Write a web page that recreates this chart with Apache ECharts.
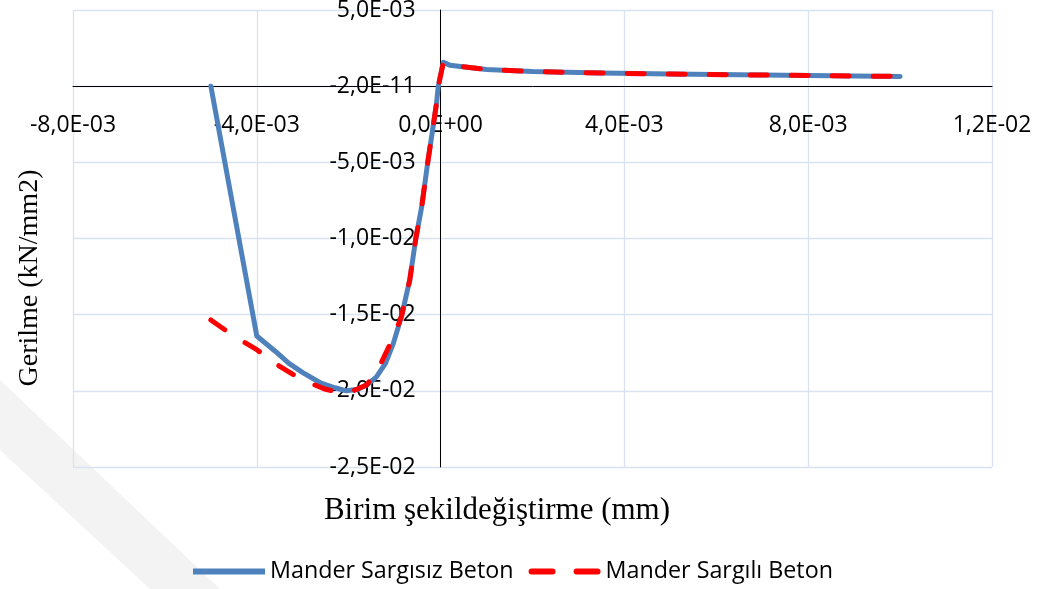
<!DOCTYPE html>
<html>
<head>
<meta charset="utf-8">
<script src="https://cdn.jsdelivr.net/npm/echarts@6/dist/echarts.min.js"></script>
<style>
html,body{margin:0;padding:0;background:#fff;}
#chart{width:1040px;height:589px;}
</style>
</head>
<body>
<div id="chart"></div>
<script>
// ---- data ----
var seriesNames = ['Mander Sargısız Beton', 'Mander Sargılı Beton'];

var unconfinedStrain = [-0.005, -0.004, -0.0036, -0.0033, -0.003, -0.0026, -0.0023, -0.00205, -0.0018, -0.0016, -0.0014, -0.0012, -0.00103, -0.00085, -0.00067, -0.00054, -0.00041, -0.00028, -0.00018, -0.00009, -0.00005, 0.00006, 0.0002, 0.001, 0.002, 0.0035, 0.005, 0.007, 0.0085, 0.01];
var unconfinedStress = [0, -0.0164, -0.0174, -0.0182, -0.0188, -0.0195, -0.0198, -0.0200, -0.0199, -0.0196, -0.0191, -0.0182, -0.0169, -0.0151, -0.0127, -0.0100, -0.0079, -0.0050, -0.0030, -0.00115, 0, 0.00157, 0.00138, 0.00110, 0.00096, 0.00086, 0.00080, 0.00073, 0.00068, 0.00064];

var confinedStrain = [-0.005, -0.0045, -0.004, -0.0035, -0.003, -0.0025, -0.0022, -0.0019, -0.0016, -0.0013, -0.00103, -0.00085, -0.00067, -0.00054, -0.00041, -0.00028, -0.00018, -0.00009, -0.00005, 0.00006, 0.0002, 0.001, 0.002, 0.0035, 0.005, 0.007, 0.0085, 0.01];
var confinedStress = [-0.01535, -0.0164, -0.0173, -0.0184, -0.0193, -0.0199, -0.0201, -0.0200, -0.0196, -0.0182, -0.0165, -0.0151, -0.0127, -0.0100, -0.0079, -0.0050, -0.0030, -0.00115, 0, 0.00157, 0.00138, 0.00110, 0.00096, 0.00086, 0.00080, 0.00073, 0.00068, 0.00064];

var xTickLabels = ['-8,0E-03', '-4,0E-03', '0,0E+00', '4,0E-03', '8,0E-03', '1,2E-02'];
var yTickLabels = ['-2,5E-02', '-2,0E-02', '-1,5E-02', '-1,0E-02', '-5,0E-03', '-2,0E-11', '5,0E-03'];
var xTitle = 'Birim şekildeğiştirme (mm)';
var yTitle = 'Gerilme (kN/mm2)';

// ---- chart ----
var W = 1040, H = 589;
var gridLeft = 73, gridRight = 48, gridTop = 10, gridBottom = 122;
var xMin = -0.008, xMax = 0.012, xStep = 0.004;
var yMin = -0.025, yMax = 0.005, yStep = 0.005;
var plotW = W - gridLeft - gridRight, plotH = H - gridTop - gridBottom;
// axes cross at the origin (as in the original): shift the axes (with their labels) to zero
var xAxisOffset = -plotH * (0 - yMin) / (yMax - yMin);
var yAxisOffset = -plotW * (0 - xMin) / (xMax - xMin);

function pairs(xs, ys) { return xs.map(function (x, i) { return [x, ys[i]]; }); }

var tickFont = { fontFamily: 'Open Sans', fontSize: 23, color: '#000' };
var gridColor = '#d9e2f1';

var chart = echarts.init(document.getElementById('chart'), null, { renderer: 'canvas' });
chart.setOption({
  animation: false,
  backgroundColor: '#fff',
  grid: { left: gridLeft, right: gridRight, top: gridTop, bottom: gridBottom, containLabel: false, outerBoundsMode: 'none' },
  xAxis: {
    type: 'value', min: xMin, max: xMax, interval: xStep,
    position: 'bottom', offset: xAxisOffset,
    axisLine: { show: true, onZero: false, lineStyle: { color: '#000', width: 1 } },
    axisTick: { show: false },
    splitLine: { show: true, lineStyle: { color: gridColor, width: 1.3 } },
    axisLabel: {
      margin: 27, fontFamily: tickFont.fontFamily, fontSize: tickFont.fontSize, color: tickFont.color,
      lineHeight: 24, showMinLabel: true, showMaxLabel: true, hideOverlap: false,
      formatter: function (v) { return xTickLabels[Math.round((v - xMin) / xStep)]; }
    }
  },
  yAxis: {
    type: 'value', min: yMin, max: yMax, interval: yStep,
    position: 'left', offset: yAxisOffset,
    axisLine: { show: true, onZero: false, lineStyle: { color: '#000', width: 1 } },
    axisTick: { show: false },
    splitLine: { show: true, lineStyle: { color: gridColor, width: 1.3 } },
    axisLabel: {
      margin: 25, fontFamily: tickFont.fontFamily, fontSize: tickFont.fontSize, color: tickFont.color,
      showMinLabel: true, showMaxLabel: true, hideOverlap: false,
      formatter: function (v) { return yTickLabels[Math.round((v - yMin) / yStep)]; }
    }
  },
  legend: {
    left: 188, top: 555,
    itemWidth: 72, itemHeight: 6, itemGap: 15,
    textStyle: { fontFamily: 'Open Sans', fontSize: 23.3, color: '#000' },
    data: [
      { name: seriesNames[0], icon: 'path://M0,0h72v6h-72z' },
      { name: seriesNames[1], icon: 'path://M3,0h21a3,3 0 0 1 0,6h-21a3,3 0 0 1 0,-6z M48,0h21a3,3 0 0 1 0,6h-21a3,3 0 0 1 0,-6z' }
    ]
  },
  graphic: [
    {
      type: 'polygon', z: -10, silent: true,
      shape: { points: [[0, 380], [220, 589], [150, 589], [0, 450]] },
      style: { fill: '#f3f3f3' }
    },
    {
      type: 'text', x: 30, y: 278, rotation: Math.PI / 2,
      style: { text: yTitle, font: '28px "Liberation Serif"', fill: '#000', align: 'center', verticalAlign: 'middle' }
    },
    {
      type: 'text', x: 497, y: 511,
      style: { text: xTitle, font: '31px "Liberation Serif"', fill: '#000', align: 'center', verticalAlign: 'middle' }
    }
  ],
  series: [
    {
      name: seriesNames[0], type: 'line', showSymbol: false, symbol: 'none',
      data: pairs(unconfinedStrain, unconfinedStress),
      lineStyle: { color: '#4f81bd', width: 5, cap: 'round', join: 'round' },
      itemStyle: { color: '#4f81bd' }, z: 2
    },
    {
      name: seriesNames[1], type: 'line', showSymbol: false, symbol: 'none',
      data: pairs(confinedStrain, confinedStress),
      lineStyle: { color: '#ff0000', width: 5, type: [17, 24], cap: 'round', join: 'round' },
      itemStyle: { color: '#ff0000' }, z: 3
    }
  ]
});
</script>
</body>
</html>
